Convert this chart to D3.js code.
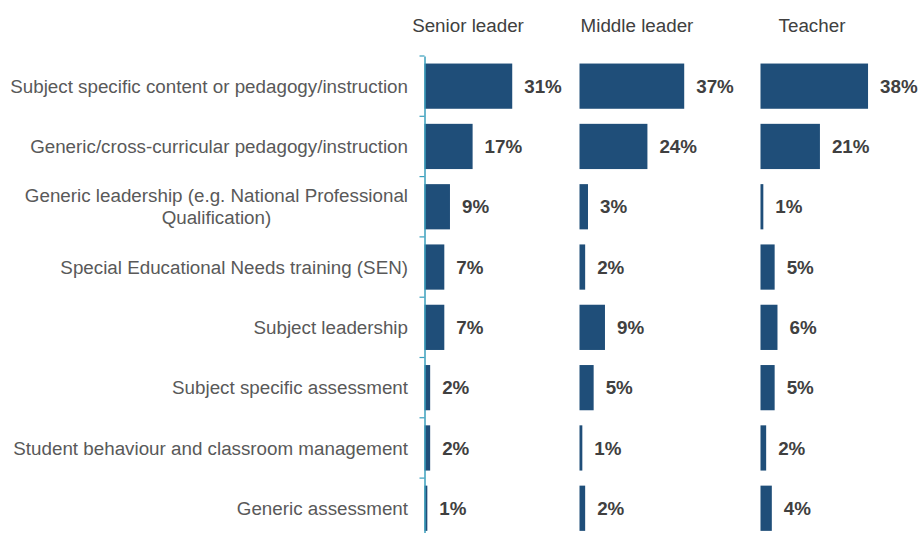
<!DOCTYPE html>
<html>
<head>
<meta charset="utf-8">
<script src="https://cdn.jsdelivr.net/npm/d3@7"></script>
<style>
  html, body { margin: 0; padding: 0; background: #ffffff; }
  svg { display: block; }
</style>
</head>
<body>
<svg id="chart" width="921" height="533"></svg>
<script>
// Professional development focus by role (percent of respondents)
const categories = [
  "Subject specific content or pedagogy/instruction",
  "Generic/cross-curricular pedagogy/instruction",
  "Generic leadership (e.g. National Professional|Qualification)",
  "Special Educational Needs training (SEN)",
  "Subject leadership",
  "Subject specific assessment",
  "Student behaviour and classroom management",
  "Generic assessment"
];
const roles = ["Senior leader", "Middle leader", "Teacher"];
const seniorLeader = [31, 17, 9, 7, 7, 2, 2, 1];
const middleLeader = [37, 24, 3, 2, 9, 5, 1, 2];
const teacher = [38, 21, 1, 5, 6, 5, 2, 4];

const seriesValues = [seniorLeader, middleLeader, teacher];

const svg = d3.select("#chart");
const barColor = "#1f4e79";
const axisColor = "#3a9fbd";
const font = "Liberation Sans, Arial, sans-serif";
const fontSize = 18.8;

// Shared vertical band scale for all three panels
const y = d3.scaleBand()
  .domain(d3.range(categories.length))
  .range([56, 56 + 60.3 * categories.length])
  .paddingInner(0.25)
  .paddingOuter(0.125);

// Each panel: left edge and a common width per percent
const panelX = [424.5, 579.5, 760.5];
const titleX = [468, 637, 812];
const pxPerPct = 2.83;

// Category labels: block right-aligned to the axis, lines centred within the block
const labelRight = 408;
const labelG = svg.append("g");
categories.forEach((c, i) => {
  const lines = c.split("|");
  const cy = y(i) + y.bandwidth() / 2;
  const lh = 22;
  const texts = lines.map((ln, k) => labelG.append("text")
    .attr("y", cy + (k - (lines.length - 1) / 2) * lh)
    .attr("dy", "0.35em")
    .attr("font-family", font)
    .attr("font-size", fontSize)
    .attr("fill", "#595959")
    .text(ln));
  const widths = texts.map(t => t.node().getComputedTextLength());
  const maxW = d3.max(widths);
  const centre = labelRight - maxW / 2;
  texts.forEach(t => t.attr("x", centre).attr("text-anchor", "middle"));
});

seriesValues.forEach((vals, p) => {
  const x = d3.scaleLinear().domain([0, 1]).range([panelX[p], panelX[p] + pxPerPct]);
  const g = svg.append("g");

  g.append("text")
    .attr("x", titleX[p])
    .attr("y", 25)
    .attr("dy", "0.35em")
    .attr("text-anchor", "middle")
    .attr("font-family", font)
    .attr("font-size", fontSize)
    .attr("fill", "#404040")
    .text(roles[p]);

  g.selectAll("rect")
    .data(vals)
    .join("rect")
    .attr("x", x(0))
    .attr("y", (d, i) => y(i))
    .attr("width", d => x(d) - x(0))
    .attr("height", y.bandwidth())
    .attr("fill", barColor);

  g.selectAll("text.val")
    .data(vals)
    .join("text")
    .attr("class", "val")
    .attr("x", d => x(d) + 12)
    .attr("y", (d, i) => y(i) + y.bandwidth() / 2)
    .attr("dy", "0.35em")
    .attr("font-family", font)
    .attr("font-size", fontSize)
    .attr("font-weight", "bold")
    .attr("fill", "#404040")
    .text(d => d + "%");

  // Category axis only on the first panel
  if (p === 0) {
    const yAxis = d3.axisLeft(y).tickSize(0).tickFormat("");
    const ag = svg.append("g").attr("transform", `translate(${panelX[p]},0)`).call(yAxis);
    ag.select(".domain").attr("stroke", axisColor).attr("stroke-width", 1.5);
    const step = y.step();
    const bounds = d3.range(categories.length + 1).map(i => y.range()[0] + i * step);
    ag.selectAll("line.sep")
      .data(bounds)
      .join("line")
      .attr("class", "sep")
      .attr("x1", -5).attr("x2", 0)
      .attr("y1", d => d).attr("y2", d => d)
      .attr("stroke", axisColor)
      .attr("stroke-width", 1.2);
  }
});
</script>
</body>
</html>
